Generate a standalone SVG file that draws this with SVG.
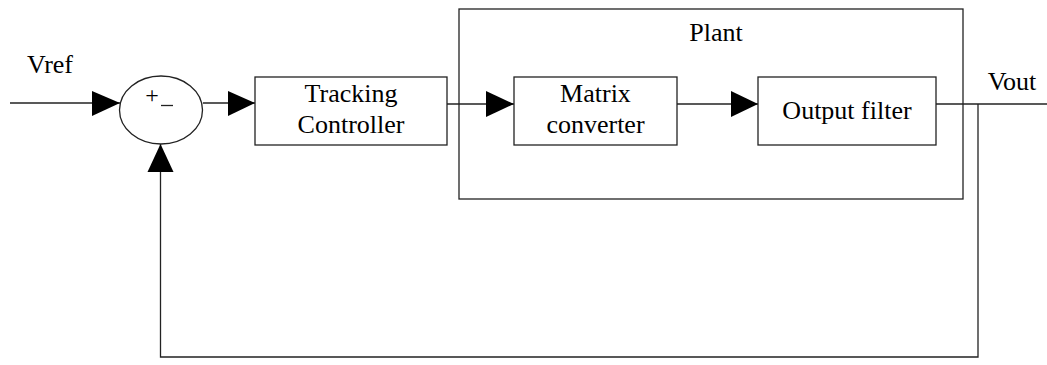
<svg xmlns="http://www.w3.org/2000/svg" width="1047" height="365" viewBox="0 0 1047 365">
  <style>
    .box { fill: #fff; stroke: #222; stroke-width: 1.3; }
    .wire { fill: none; stroke: #222; stroke-width: 1.3; }
    .arr { fill: #000; stroke: none; }
  </style>
  <rect width="1047" height="365" fill="#fff"/>

  <g id="plant">
    <rect class="box" x="459" y="9" width="504" height="190"/>
    <text x="716" y="41" font-family="Liberation Serif, serif" font-size="26" text-anchor="middle">Plant</text>
  </g>

  <g id="connectors">
    <!-- reference input into the summing junction -->
    <line class="wire" x1="10" y1="103" x2="120" y2="103"/>
    <polygon class="arr" points="92,91 120,103 92,116"/>
    <!-- error into the controller -->
    <line class="wire" x1="203" y1="103" x2="255" y2="103"/>
    <polygon class="arr" points="228,91 255,103 228,116"/>
    <!-- controller into the converter -->
    <line class="wire" x1="447" y1="104" x2="514" y2="104"/>
    <polygon class="arr" points="486,91 514,104 486,117"/>
    <!-- converter into the filter -->
    <line class="wire" x1="677" y1="104" x2="758" y2="104"/>
    <polygon class="arr" points="731,91 758,104 731,117"/>
    <!-- output -->
    <line class="wire" x1="936" y1="104" x2="1047" y2="104"/>
    <!-- feedback path -->
    <polyline class="wire" points="978,104 978,357 160.5,357 160.5,144"/>
    <polygon class="arr" points="147.5,172 160.5,144 173.5,172"/>
  </g>

  <g id="sum">
    <ellipse class="box" cx="161" cy="110" rx="41.5" ry="34"/>
    <text x="152" y="103" font-family="Liberation Serif, serif" font-size="24" text-anchor="middle">+</text>
    <line class="wire" x1="161" y1="105.5" x2="173" y2="105.5"/>
  </g>

  <g id="controller">
    <rect class="box" x="255" y="77" width="192" height="68"/>
    <text x="351" y="102" font-family="Liberation Serif, serif" font-size="26" text-anchor="middle">Tracking</text>
    <text x="351" y="133" font-family="Liberation Serif, serif" font-size="26" text-anchor="middle">Controller</text>
  </g>

  <g id="converter">
    <rect class="box" x="514" y="77" width="163" height="68"/>
    <text x="595.5" y="102" font-family="Liberation Serif, serif" font-size="26" text-anchor="middle">Matrix</text>
    <text x="595.5" y="133" font-family="Liberation Serif, serif" font-size="26" text-anchor="middle">converter</text>
  </g>

  <g id="filter">
    <rect class="box" x="758" y="77" width="178" height="68"/>
    <text x="847" y="119" font-family="Liberation Serif, serif" font-size="26" text-anchor="middle">Output filter</text>
  </g>

  <g id="labels">
    <text x="50" y="73" font-family="Liberation Serif, serif" font-size="26" text-anchor="middle">Vref</text>
    <text x="1012" y="90" font-family="Liberation Serif, serif" font-size="26" text-anchor="middle">Vout</text>
  </g>
</svg>
